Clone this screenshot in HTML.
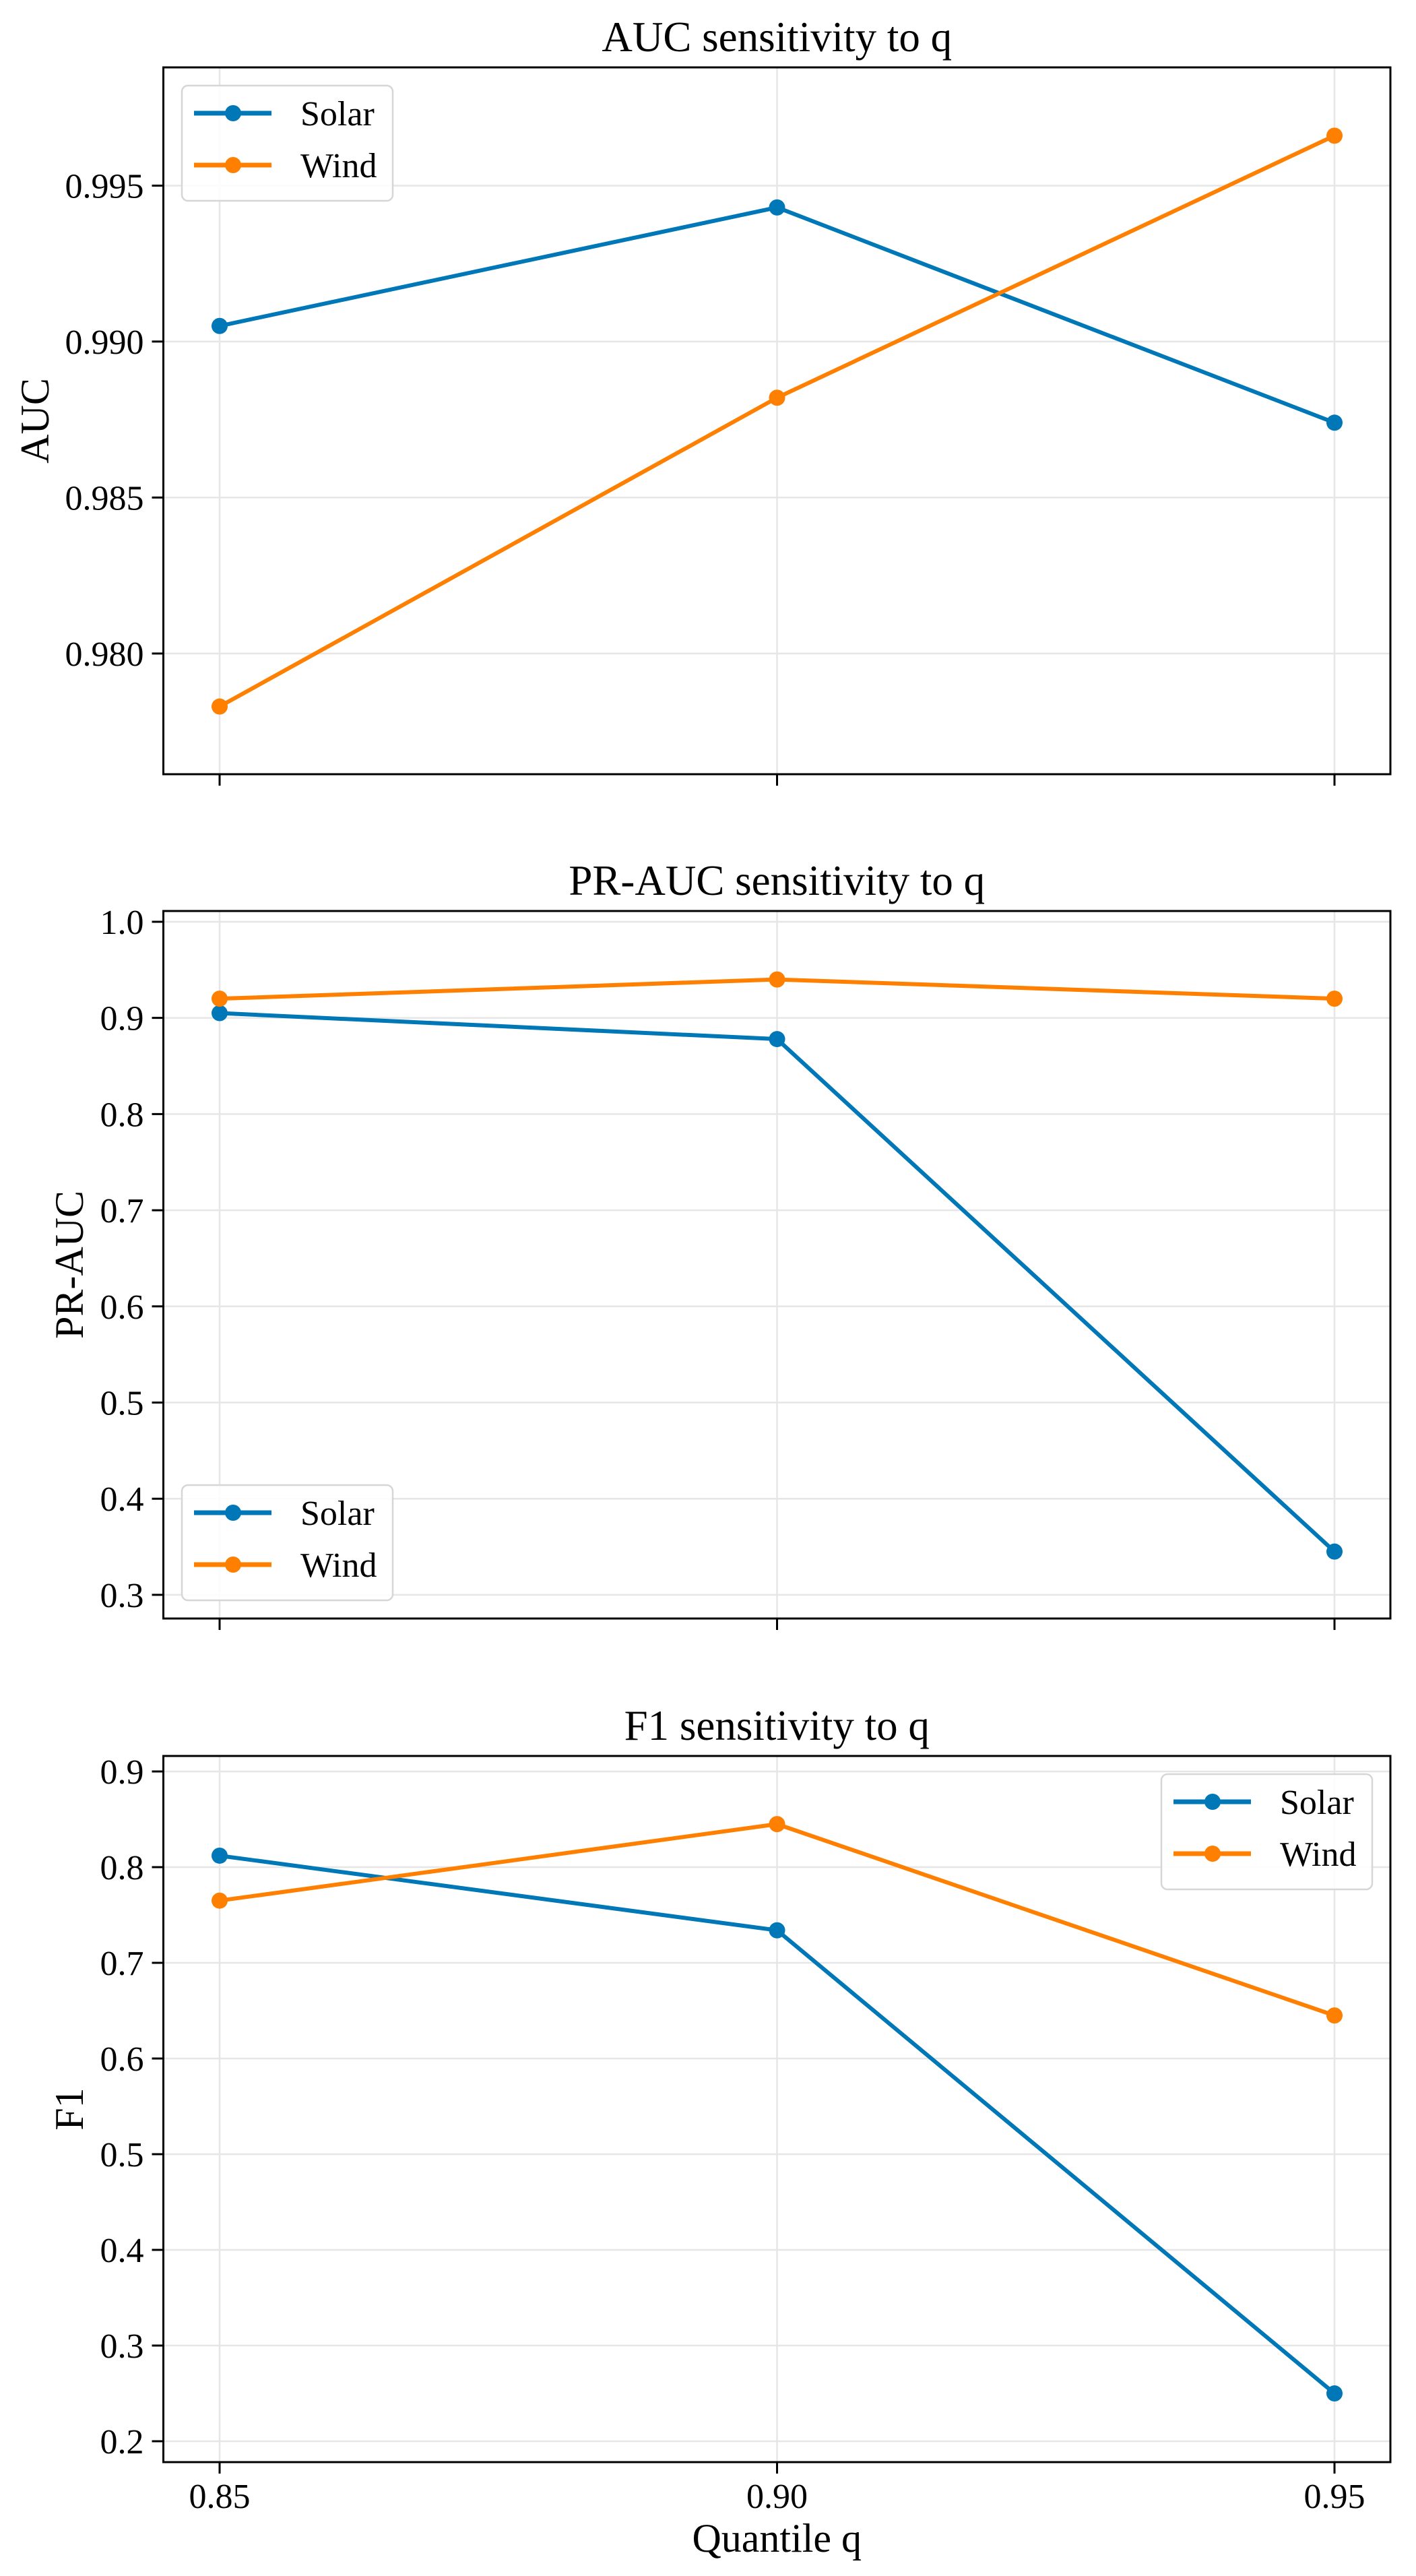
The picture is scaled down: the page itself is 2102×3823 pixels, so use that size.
<!DOCTYPE html>
<html><head><meta charset="utf-8"><style>
html,body{margin:0;padding:0;background:#fff;}
svg{display:block;font-family:"Liberation Serif","DejaVu Serif",serif;}
</style></head><body>
<svg id="fig" width="2102" height="3823" viewBox="0 0 2102 3823" xmlns="http://www.w3.org/2000/svg"></svg>
<script>
const categories = [0.85, 0.90, 0.95];
const xTickLabels = ["0.85", "0.90", "0.95"];
const aucSolar = [0.9905, 0.9943, 0.9874];
const aucWind = [0.9783, 0.9882, 0.9966];
const prSolar = [0.905, 0.878, 0.345];
const prWind = [0.920, 0.940, 0.920];
const f1Solar = [0.812, 0.734, 0.250];
const f1Wind = [0.765, 0.845, 0.645];
const aucTicks = [0.980, 0.985, 0.990, 0.995];
const aucTickLabels = ["0.980", "0.985", "0.990", "0.995"];
const prTicks = [0.3, 0.4, 0.5, 0.6, 0.7, 0.8, 0.9, 1.0];
const prTickLabels = ["0.3", "0.4", "0.5", "0.6", "0.7", "0.8", "0.9", "1.0"];
const f1Ticks = [0.2, 0.3, 0.4, 0.5, 0.6, 0.7, 0.8, 0.9];
const f1TickLabels = ["0.2", "0.3", "0.4", "0.5", "0.6", "0.7", "0.8", "0.9"];
const seriesNames = ["Solar", "Wind"];

const NS = "http://www.w3.org/2000/svg";
const svg = document.getElementById("fig");
const BLUE = "#0077b7", ORANGE = "#ff8000";
function mk(tag, attrs, parent) {
  const e = document.createElementNS(NS, tag);
  for (const k in attrs) e.setAttribute(k, attrs[k]);
  (parent || svg).appendChild(e);
  return e;
}
const L = 242.5, R = 2064;
const xMin = 0.8425, xMax = 0.9575;
function xS(v) { return 326 + (v - 0.85) / 0.10 * (1981 - 326); }

const panels = [
  {key:"auc", top:100, bot:1149, ymin:0.97613, ymax:0.99879, ticks:aucTicks, tl:aucTickLabels, s:aucSolar, w:aucWind,
   title:"AUC sensitivity to q", ylabel:"AUC", ylx:52, legend:"top"},
  {key:"pr-auc", top:1352, bot:2402, ymin:0.2754, ymax:1.0112, ticks:prTicks, tl:prTickLabels, s:prSolar, w:prWind,
   title:"PR-AUC sensitivity to q", ylabel:"PR-AUC", ylx:103, legend:"bottom"},
  {key:"f1", top:2606, bot:3654, ymin:0.1782, ymax:0.9162, ticks:f1Ticks, tl:f1TickLabels, s:f1Solar, w:f1Wind,
   title:"F1 sensitivity to q", ylabel:"F1", ylx:103, legend:"right"}
];

panels.forEach((p, pi) => {
  const g = mk("g", {});
  
  
  const yS = v => p.bot - (v - p.ymin) / (p.ymax - p.ymin) * (p.bot - p.top);
  // grid
  p.ticks.forEach(t => {
    const l = mk("line", {x1:L, x2:R, y1:yS(t), y2:yS(t), stroke:"#e6e6e6", "stroke-width":2.5}, g);
    
    
  });
  categories.forEach(c => {
    const l = mk("line", {x1:xS(c), x2:xS(c), y1:p.top, y2:p.bot, stroke:"#e6e6e6", "stroke-width":2.5}, g);
    
    
  });
  // series
  [[p.s, BLUE, "solar"], [p.w, ORANGE, "wind"]].forEach(([vals, col, nm]) => {
    const pts = vals.map((v, i) => xS(categories[i]) + "," + yS(v)).join(" ");
    const pl = mk("polyline", {points:pts, fill:"none", stroke:col, "stroke-width":6, "stroke-linejoin":"round"}, g);
    
    
    vals.forEach((v, i) => {
      const c = mk("circle", {cx:xS(categories[i]), cy:yS(v), r:12, fill:col}, g);
      
      
    });
  });
  // frame
  const fr = mk("rect", {x:L, y:p.top, width:R-L, height:p.bot-p.top, fill:"none", stroke:"#000", "stroke-width":3}, g);
  
  
  // y ticks
  p.ticks.forEach((t, i) => {
    mk("line", {x1:L-17, x2:L, y1:yS(t), y2:yS(t), stroke:"#000", "stroke-width":3}, g);
    const tx = mk("text", {x:L-29, y:yS(t)+18, "font-size":52, "text-anchor":"end", fill:"#000"}, g);
    tx.textContent = p.tl[i];
    
    
  });
  // x ticks
  categories.forEach((c, i) => {
    mk("line", {x1:xS(c), x2:xS(c), y1:p.bot, y2:p.bot+17, stroke:"#000", "stroke-width":3}, g);
    if (pi === 2) {
      const tx = mk("text", {x:xS(c), y:p.bot+68, "font-size":52, "text-anchor":"middle", fill:"#000"}, g);
      tx.textContent = xTickLabels[i];
      
      
    }
  });
  // title
  const ti = mk("text", {x:(L+R)/2, y:p.top-24, "font-size":63, "text-anchor":"middle", fill:"#000"}, g);
  ti.textContent = p.title;
  
  
  // ylabel
  const cy = (p.top + p.bot) / 2;
  const yl = mk("text", {x:p.ylx, y:cy, "font-size":60, "text-anchor":"middle", fill:"#000",
    transform:"rotate(-90 " + p.ylx + " " + cy + ") translate(0 20)"}, g);
  yl.textContent = p.ylabel;
  
  
  // legend
  let lx, ly;
  if (p.legend === "top") { lx = 270; ly = p.top + 27; }
  else if (p.legend === "bottom") { lx = 270; ly = p.bot - 27 - 171; }
  else { lx = 1724; ly = p.top + 27; }
  const lg = mk("g", {}, g);
  
  
  mk("rect", {x:lx, y:ly, width:313, height:171, rx:9, fill:"#fff", "fill-opacity":0.85, stroke:"#d6d6d6", "stroke-width":2.5}, lg);
  [[BLUE, 41], [ORANGE, 118]].forEach(([col, dy], k) => {
    const e = mk("g", {}, lg);
    
    
    mk("line", {x1:lx+18, x2:lx+133, y1:ly+dy, y2:ly+dy, stroke:col, "stroke-width":7}, e);
    mk("circle", {cx:lx+76, cy:ly+dy, r:12, fill:col}, e);
    const t = mk("text", {x:lx+176, y:ly+dy+18, "font-size":52, fill:"#000"}, e);
    t.textContent = seriesNames[k];
  });
});
const xl = mk("text", {x:(L+R)/2, y:3787, "font-size":60, "text-anchor":"middle", fill:"#000"});
xl.textContent = "Quantile q";


</script>
</body></html>
